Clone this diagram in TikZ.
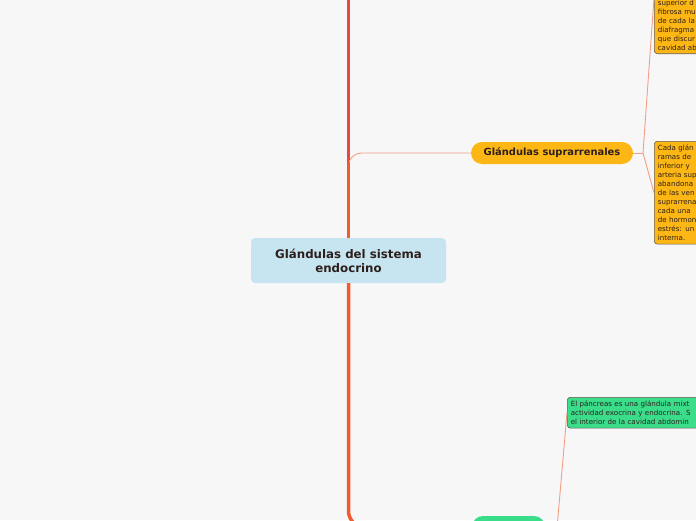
\documentclass[tikz,border=0pt]{standalone}
\usepackage{fontspec}
\setmainfont{DejaVu Sans}
\definecolor{mmbg}{RGB}{247,247,247}
\definecolor{mmred}{RGB}{234,72,62}
\definecolor{mmorange}{RGB}{241,92,46}
\definecolor{mmsalmon}{RGB}{244,158,136}
\definecolor{mmblue}{RGB}{198,229,241}
\definecolor{mmamber}{RGB}{253,183,20}
\definecolor{mmgreen}{RGB}{58,222,138}
\definecolor{mmink}{RGB}{45,32,28}
\definecolor{mmedge}{RGB}{100,90,80}
\usetikzlibrary{positioning}

\begin{document}
\begin{tikzpicture}[x=1pt,y=-1pt,
  central/.style={fill=mmblue,rounded corners=4pt,minimum width=195pt,minimum height=45pt,
    align=center,text=mmink,font=\bfseries\fontsize{11.8}{14}\selectfont},
  branchnode/.style={rounded corners=11pt,minimum width=162pt,minimum height=22pt,
    text=mmink,font=\bfseries\fontsize{9.9}{11}\selectfont},
  notebox/.style={draw=mmedge,line width=0.6pt,rounded corners=3pt,align=left,
    text width=150pt,inner sep=3.5pt,text=mmink,font=\fontsize{7.1}{9}\selectfont},
  trunk/.style={line width=3.5pt},
  twig/.style={mmsalmon,line width=0.9pt}]
  \useasboundingbox (0,0) rectangle (696,520);
  \clip (0,0) rectangle (696,520);
  \fill[mmbg] (0,0) rectangle (696,520);
  % central topic and branches
  \node[central] (root) at (348.5,260.5) {Glándulas del sistema\\endocrino};
  \node[branchnode,fill=mmamber] (supra) at (552,153) {Glándulas suprarrenales};
  \node[branchnode,fill=mmgreen,minimum width=73pt] (panc) at (508.5,527) {};
  % notes
  \node[notebox,fill=mmamber,anchor=south west] (supratop) at (654,54)
    {superior d\\fibrosa mu\\de cada la\\diafragma\\que discur\\cavidad ab};
  \node[notebox,fill=mmamber,anchor=north west] (supralow) at (654,141)
    {Cada glán\\ramas de\\inferior y\\arteria sup\\abandona\\de las ven\\suprarrena\\cada una\\de hormon\\estrés: un\\interna.};
  \node[notebox,fill=mmgreen,anchor=north west] (pancnote) at (567,397)
    {El páncreas es una glándula mixt\\actividad exocrina y endocrina. S\\el interior de la cavidad abdomin};
  \coordinate (topend) at (348.5,-10);
  \coordinate (splitpt) at (348.5,162);
  \coordinate (fork) at (643,153);
  \coordinate (pancfork) at (557,528);
  % trunk
  \draw[trunk,mmred] (root.north) -- (topend);
  \draw[twig,rounded corners=13pt] (splitpt) |- (supra.west);
  \draw[trunk,mmorange] (root.north) -- (splitpt);
  \draw[trunk,mmorange,rounded corners=16pt] (root.south) |- (panc.west);
  % twigs to notes
  \draw[twig] (supra.east) -- (fork);
  \draw[twig] (fork) -- ([yshift=56pt]supratop.south west);
  \draw[twig] (fork) -- (supralow.west);
  \draw[twig] (panc.east) -- (pancfork) -- (pancnote.west);
\end{tikzpicture}
\end{document}
